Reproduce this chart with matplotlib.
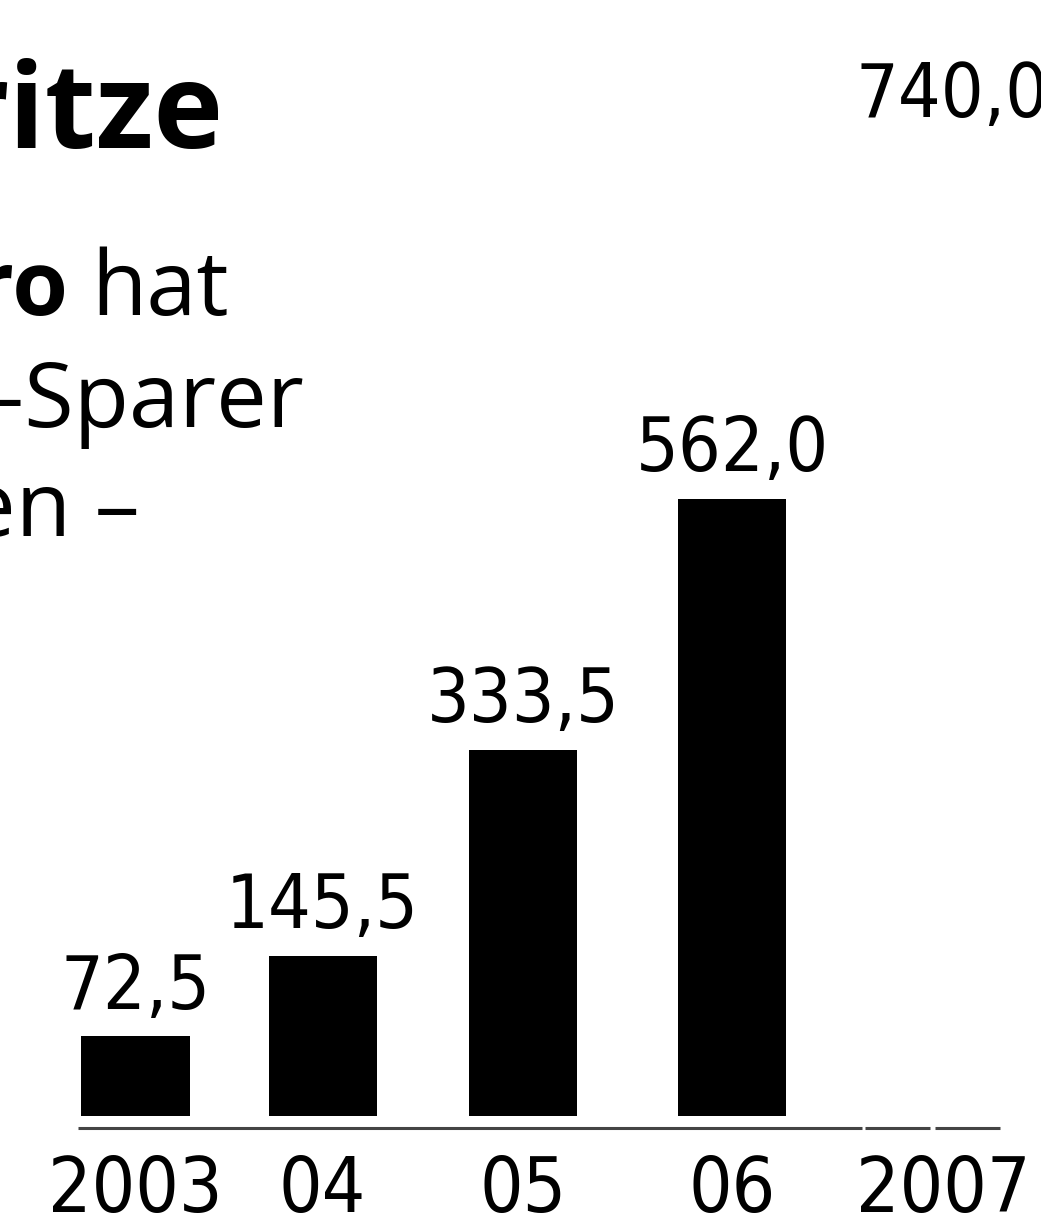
import matplotlib.pyplot as plt

# Daten (Mio. Euro)
jahre = ["2003", "04", "05", "06", "2007"]
werte = [72.5, 145.5, 333.5, 562.0, 740.0]
werte_txt = ["72,5", "145,5", "333,5", "562,0", "740,0"]

# Layout
W, H = 1041, 1227
xpos = [0.0, 0.926, 1.918, 2.955, 4.0]
px_per_x = 202.0
px_per_y = 1.098
y0_px = 1116  # Pixelzeile der Nulllinie (von oben)
x0_px = 135.5

num_font = dict(family="DejaVu Sans", fontstretch="condensed")
txt_font = ["Open Sans", "DejaVu Sans"]

fig = plt.figure(figsize=(W / 100, H / 100), dpi=100)
fig.patch.set_facecolor("white")
ax = fig.add_axes([0, 0, 1, 1])
ax.set_xlim(-x0_px / px_per_x, (W - x0_px) / px_per_x)
ax.set_ylim(-(H - y0_px) / px_per_y, y0_px / px_per_y)
ax.axis("off")

# Balken (2007 ist im Ausschnitt nicht sichtbar)
ax.bar(xpos[:4], werte[:4], width=0.535, color="black", edgecolor="none")

for x, v, t in zip(xpos[:4], werte[:4], werte_txt[:4]):
    ax.annotate(t, (x, v), xytext=(0, 20), textcoords="offset points",
                ha="center", va="baseline", fontsize=54, **num_font)

# Wert 2007 oben rechts (rechts angeschnitten)
ax.text(xpos[4] + 0.04, (y0_px - 117) / px_per_y, werte_txt[4], ha="center",
        va="baseline", fontsize=54, **num_font)

# Grundlinie (drei Stücke)
yb = (y0_px - 1128) / px_per_y
ax.hlines([yb, yb, yb], [-0.285, 3.611, 3.958], [3.597, 3.933, 4.280],
          color="#444444", lw=2.2)

# Jahresbeschriftung
for x, j in zip(xpos, jahre):
    ax.text(x, (y0_px - 1212) / px_per_y, j, ha="center", va="baseline",
            fontsize=55, **num_font)

# Überschrift und Text (links abgeschnitten)
fig.text(224 / W, 1 - 148 / H, "ritze", ha="right", va="baseline",
         fontsize=85, fontweight="bold", family=txt_font)
fig.text(68 / W, 1 - 315 / H, "ro", ha="right", va="baseline",
         fontsize=65, fontweight="bold", family=txt_font)
body = [("hat", 229, 315), ("r-Sparer", 304, 427), ("en \u2013", 140, 536)]
for s, xr, yb_px in body:
    fig.text(xr / W, 1 - yb_px / H, s, ha="right", va="baseline",
             fontsize=65, family=txt_font)

fig.savefig("out.png", dpi=100)
